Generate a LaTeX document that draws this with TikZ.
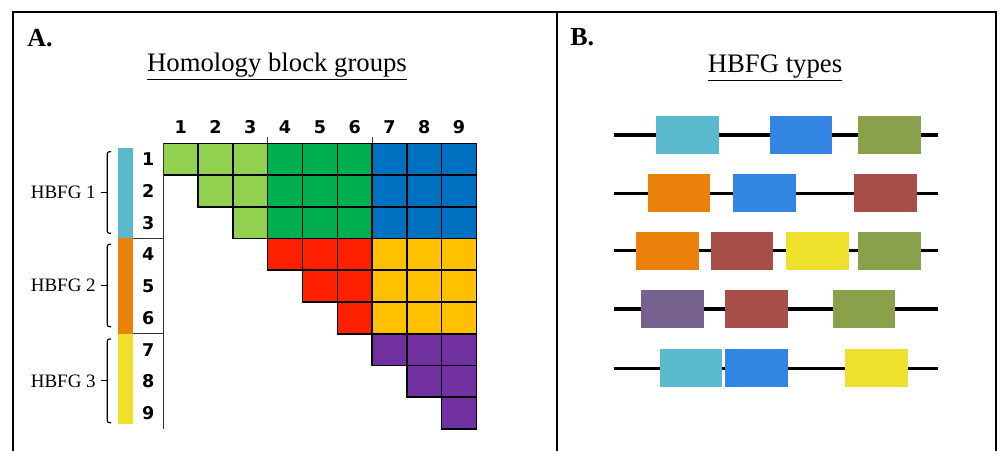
\documentclass[tikz,border=0pt]{standalone}
\usepackage{fontspec}
\setmainfont{Liberation Serif}
\newfontfamily\numfont{DejaVu Sans}

%% block colours (matrix)
\definecolor{cell11}{HTML}{92D050}
\definecolor{cell12}{HTML}{00B050}
\definecolor{cell13}{HTML}{0070C0}
\definecolor{cell22}{HTML}{FF2000}
\definecolor{cell23}{HTML}{FFC000}
\definecolor{cell33}{HTML}{7030A0}
%% family colours
\definecolor{famCyan}{HTML}{5BB9CD}
\definecolor{famOrange}{HTML}{E9810A}
\definecolor{famYellow}{HTML}{EEE02B}
\definecolor{famBlue}{HTML}{3385E4}
\definecolor{famOlive}{HTML}{8AA14C}
\definecolor{famBrown}{HTML}{A74E48}
\definecolor{famPurple}{HTML}{77628F}

\begin{document}
\begin{tikzpicture}
[x=0.025cm,y=-0.025cm,
  frameDecorate/.style={line width=1.6pt},%
  cellDecorate/.style={draw=black,line width=1.1pt},%
  axisDecorate/.style={draw=black!80,line width=0.8pt},%
  numDecorate/.style={font=\numfont\bfseries\fontsize{12.5}{13}\selectfont,inner sep=0pt},%
  groupDecorate/.style={font=\fontsize{13.5}{15}\selectfont,inner sep=0pt,anchor=east},%
  braceDecorate/.style={line width=0.8pt,rounded corners=1.5pt},%
  trackDecorate/.style={line width=2.4pt},%
  boxDecorate/.style={shape=rectangle,anchor=west,inner sep=0pt,
    minimum width=1.5675cm,minimum height=0.95cm}]
\useasboundingbox (0,0) rectangle (1000,451);

%% frame
\draw[frameDecorate] (13.3,452) -- (13.3,11.7) -- (995.7,11.7) -- (995.7,452);
\draw[frameDecorate] (557,11.7) -- (557,452);

%% headings
\node[anchor=base west,inner sep=0pt,font=\bfseries\fontsize{18.5}{20}\selectfont] (labA) at (27,46.7) {A.};
\node[anchor=base west,inner sep=0pt,font=\bfseries\fontsize{18.5}{20}\selectfont] (labB) at (570,45.7) {B.};
\node[anchor=base,inner sep=0pt,font=\fontsize{19}{22}\selectfont] (titleA) at (277,72) {\underline{Homology block groups}};
\node[anchor=base,inner sep=0pt,font=\fontsize{19}{22}\selectfont] (titleB) at (775,72.5) {\underline{HBFG types}};

%% matrix cells
\foreach \i in {1,...,9}
{
  \foreach \j in {\i,...,9}
  {
    \pgfmathtruncatemacro{\gi}{(\i-1)/3+1}
    \pgfmathtruncatemacro{\gj}{(\j-1)/3+1}
    \draw[cellDecorate,fill=cell\gi\gj] ({163.3+(\j-1)*34.8},{143.3+(\i-1)*31.74}) rectangle +(34.8,31.74);
  }
}

%% axes of the matrix
\draw[axisDecorate] (163.3,143.3) -- (163.3,429.5);
\foreach \y in {238.5,333.7}
{
  \draw[axisDecorate] (132.7,\y) -- (163.3,\y);
}
\foreach \x in {267.7,372.1}
{
  \draw[axisDecorate] (\x,137) -- (\x,143.3);
}

%% row and column numbers
\foreach \k in {1,...,9}
{
  \node[numDecorate] (c\k) at ({163.3+(\k-0.5)*34.8},127.3) {\k};
  \node[numDecorate] (r\k) at (148.3,{143.3+(\k-0.5)*31.74}) {\k};
}

%% group bar
\fill[famCyan]   (117.7,148.3) rectangle (132.7,238.5);
\fill[famOrange] (117.7,238.5) rectangle (132.7,333.7);
\fill[famYellow] (117.7,333.7) rectangle (132.7,424.3);

%% brackets and group names
\foreach \g/\top/\bot in {1/151.7/233.3, 2/244.3/326.7, 3/339/422.7}
{
  \coordinate (mid\g) at (107.3,{(\top+\bot)/2});
  \draw[braceDecorate] (111,\top) -- (107.3,\top) -- (107.3,\bot) -- (111,\bot);
  \node[groupDecorate] (hbfg\g) at (96,{(\top+\bot)/2}) {HBFG \g};
  \draw[line width=0.8pt] (mid\g) -- (hbfg\g.east -| 100.5,0);
}

%% tracks
\foreach \row/\y in {1/135, 2/193.3, 3/250.7, 4/309, 5/368.3}
{
  \coordinate (tl\row) at (614.3,\y);
  \coordinate (tr\row) at (937.7,\y);
  \draw[trackDecorate] (tl\row) -- (tr\row);
}

%% family boxes
\foreach \nodename/\row/\x/\col in {
  a1/1/656/famCyan, a2/1/769.3/famBlue, a3/1/858/famOlive,
  b1/2/647.3/famOrange, b2/2/733/famBlue, b3/2/854/famBrown,
  c1/3/636/famOrange, c2/3/710.3/famBrown, c3/3/786/famYellow, c4/3/858/famOlive,
  d1/4/641/famPurple, d2/4/724.7/famBrown, d3/4/832.3/famOlive,
  e1/5/659.3/famCyan, e2/5/724.7/famBlue, e3/5/845/famYellow}
{
  \node[boxDecorate,fill=\col] (\nodename) at (\x,0 |- tl\row) {};
}
\end{tikzpicture}
\end{document}
